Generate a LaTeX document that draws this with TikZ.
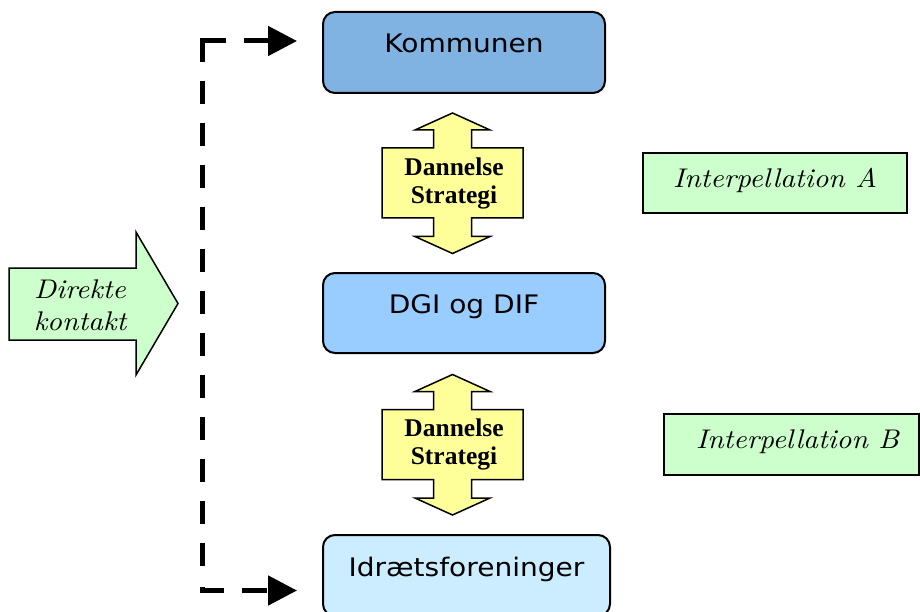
\documentclass[tikz,border=0pt]{standalone}
\usepackage{fontspec}
\usetikzlibrary{arrows.meta}
\newfontfamily\boxfont{DejaVu Sans}[FakeStretch=1.1]
\newfontfamily\serifbold{Liberation Serif}
\newfontfamily\itfont{lmroman10-italic}[Extension=.otf, FakeStretch=1.08]
\definecolor{komblue}{RGB}{128,178,226}
\definecolor{dgiblue}{RGB}{153,204,255}
\definecolor{idrblue}{RGB}{204,236,255}
\definecolor{lgreen}{RGB}{204,255,204}
\definecolor{lyellow}{RGB}{255,255,153}
\tikzset{
  mainbox/.style={draw, line width=2pt, rounded corners=12pt, minimum width=282pt,
    minimum height=81pt, inner sep=0pt, text height=1pt, text depth=0pt,
    font=\boxfont\fontsize{25.5}{30}\selectfont},
  interbox/.style={draw, line width=1.5pt, fill=lgreen, inner sep=0pt, text depth=0pt,
    font=\itfont\fontsize{27}{32}\selectfont},
  yarrow/.style={draw, line width=1.5pt, fill=lyellow, line join=miter},
  garrow/.style={draw, line width=1.5pt, fill=lgreen, line join=miter},
  dstext/.style={align=center, inner sep=0pt, font=\serifbold\bfseries\fontsize{25.5}{28}\selectfont},
  dktext/.style={align=center, inner sep=0pt, font=\itfont\fontsize{27}{32}\selectfont},
  dashconn/.style={line width=5pt, line join=miter,
    {Triangle[length=29pt,width=29pt]}-{Triangle[length=29pt,width=29pt]},
    dash pattern=on 25pt off 18pt on 44.5pt off 19pt
      on 23pt off 19pt on 23pt off 19pt on 23pt off 19pt on 23pt off 19pt
      on 23pt off 19pt on 23pt off 19pt on 23pt off 19pt on 23pt off 19pt
      on 23pt off 19pt on 23pt off 19pt on 23pt off 19pt
      on 23pt off 21pt on 25pt off 18pt on 25pt off 10pt},
  dsarrow/.pic={
    \draw[yarrow] (0,0) -- (37.5,17) -- (19,17) -- (19,35) -- (70.5,35) -- (70.5,105)
      -- (19,105) -- (19,123.5) -- (37.5,123.5) -- (0,140.5) -- (-37.5,123.5)
      -- (-19,123.5) -- (-19,105) -- (-70.5,105) -- (-70.5,35) -- (-19,35)
      -- (-19,17) -- (-37.5,17) -- cycle;
  }
}
\begin{document}
\begin{tikzpicture}[x=1pt,y=-1pt]
\useasboundingbox (0,0) rectangle (920,612);
% main boxes
\node[mainbox, fill=komblue] (kom) at (464,52.5) {Kommunen};
\node[mainbox, fill=dgiblue, minimum height=80pt] (dgi) at (464,313) {DGI og DIF};
\node[mainbox, fill=idrblue, minimum width=287pt] (idr) at (466.5,575.5) {Idrætsforeninger};
% double arrows
\pic at (452.5,113) {dsarrow};
\node[dstext] (ds1) at (454,183.5) {Dannelse\\Strategi};
\pic at (452.5,374.5) {dsarrow};
\node[dstext] (ds2) at (454,444.5) {Dannelse\\Strategi};
% interpellation boxes
\node[interbox, minimum width=264pt, minimum height=60pt, text height=10pt] (ia) at (775,183) {Interpellation A};
\node[interbox, minimum width=255pt, minimum height=61pt, text height=7pt] (ib) at (791.5,444.5) {\hspace*{12pt}Interpellation B};
% direkte kontakt arrow
\draw[garrow] (9,268) -- (136,268) -- (136,232) -- (178,303.5) -- (136,375) -- (136,340) -- (9,340) -- cycle;
\node[dktext] (dk) at (80,305.7) {Direkte\\kontakt};
% dashed connector
\coordinate (kin) at (297,41);
\coordinate (c1) at (202.5,41);
\coordinate (c2) at (202.5,590.5);
\coordinate (iin) at (297,590.5);
\draw[dashconn] (kin) -- (c1) -- (c2) -- (iin);
\end{tikzpicture}
\end{document}
